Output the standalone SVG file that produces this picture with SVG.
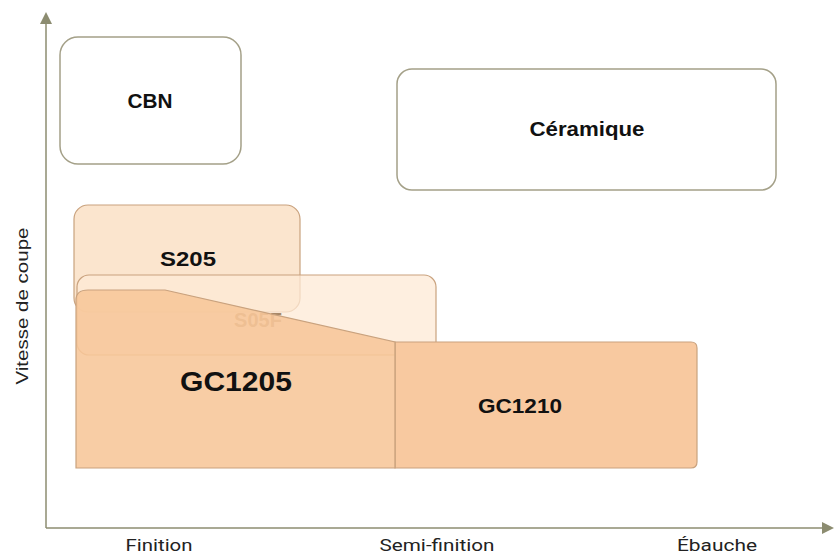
<svg xmlns="http://www.w3.org/2000/svg" width="835" height="555" viewBox="0 0 835 555">
<style>
.lbl{font-family:"Liberation Sans",Arial,sans-serif;font-weight:bold;fill:#111;text-anchor:middle}
.ax{font-family:Roboto,"Liberation Sans",sans-serif;font-size:17px;fill:#222;text-anchor:middle}
.white{fill:#fff;stroke:#a4a088;stroke-width:1.5}
.grade{stroke:#c9a27e;stroke-width:1.2}
</style>
<defs>
<marker id="arr" viewBox="0 0 10 10" refX="5" refY="5" markerWidth="8" markerHeight="8" orient="auto">
<path d="M0,0 L10,5 L0,10 z" fill="#8c8c70"/>
</marker>
</defs>
<rect width="835" height="555" fill="#fff"/>
<g id="axes">
<line x1="46" y1="528" x2="46" y2="18" stroke="#8c8c70" stroke-width="1.5" marker-end="url(#arr)"/>
<line x1="46" y1="528" x2="828" y2="528" stroke="#8c8c70" stroke-width="1.5" marker-end="url(#arr)"/>
<text class="ax" x="159" y="551" textLength="67" lengthAdjust="spacingAndGlyphs">Finition</text>
<text class="ax" x="437" y="551" textLength="115" lengthAdjust="spacingAndGlyphs">Semi-finition</text>
<text class="ax" x="717" y="551" textLength="80" lengthAdjust="spacingAndGlyphs">Ébauche</text>
<text font-family="Liberation Sans,Arial,sans-serif" font-size="17" fill="#222" text-anchor="middle" transform="translate(28,306) rotate(-90)" textLength="157" lengthAdjust="spacingAndGlyphs">Vitesse de coupe</text>
</g>
<g id="cbn">
<rect class="white" x="60" y="37" width="181" height="127" rx="18"/>
<text class="lbl" x="150" y="108" font-size="20" textLength="45" lengthAdjust="spacingAndGlyphs">CBN</text>
</g>
<g id="ceramique">
<rect class="white" x="397" y="69" width="379" height="121" rx="15"/>
<text class="lbl" x="587" y="136" font-size="20" textLength="115" lengthAdjust="spacingAndGlyphs">Céramique</text>
</g>
<g id="s205">
<rect class="grade" x="74" y="205" width="226" height="107" rx="14" fill="#fbe2c9" fill-opacity="0.9"/>
<text class="lbl" x="188" y="266" font-size="20" textLength="56" lengthAdjust="spacingAndGlyphs">S205</text>
</g>
<g id="s05f">
<rect class="grade" x="77" y="275" width="359" height="80" rx="12" fill="#fde9d6" fill-opacity="0.75"/>
<text class="lbl" x="258" y="327" font-size="20" style="fill:#a88868">S05F</text>
</g>
<g id="gc1210">
<path class="grade" d="M395,342 H691 Q697,342 697,348 V462 Q697,468 691,468 H395 Z" fill="#f8c9a0"/>
<text class="lbl" x="520" y="413" font-size="20" textLength="84" lengthAdjust="spacingAndGlyphs">GC1210</text>
</g>
<g id="gc1205">
<path class="grade" d="M76,468 V300 Q76,290 88,290 H165 L395,342 V468 Z" fill="#f7c698" fill-opacity="0.88"/>
<text class="lbl" x="236" y="391" font-size="27" textLength="112" lengthAdjust="spacingAndGlyphs">GC1205</text>
</g>
</svg>
